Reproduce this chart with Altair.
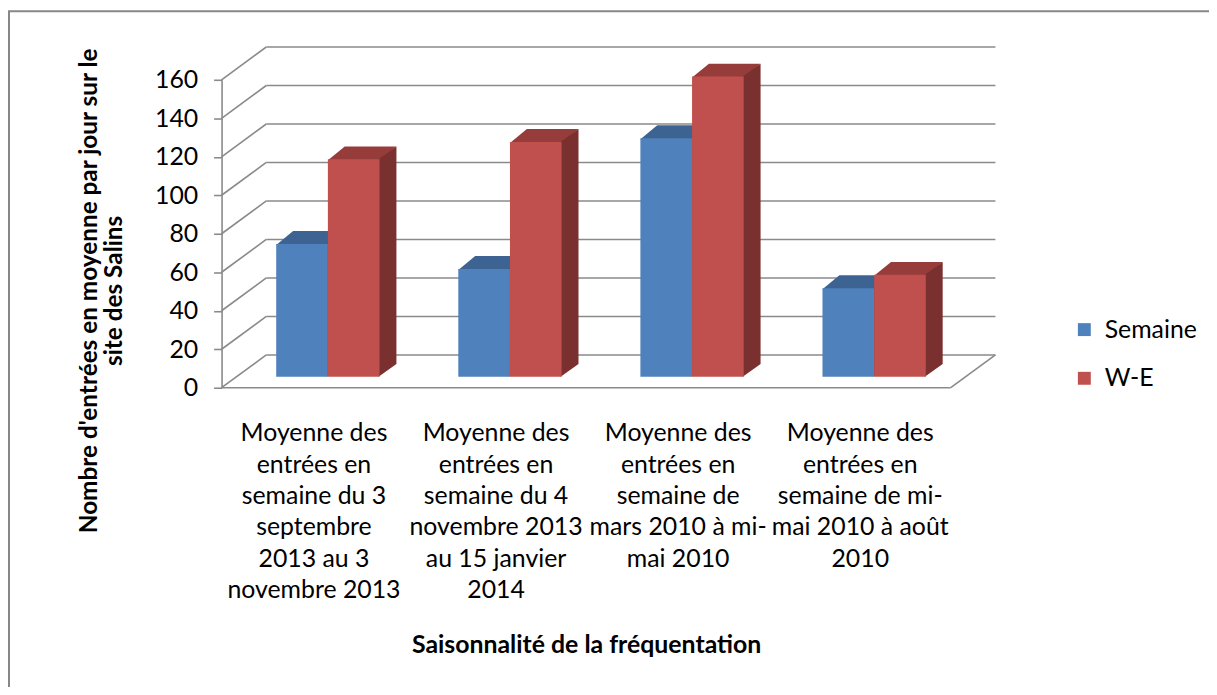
import altair as alt
import pandas as pd

# ---------------- data ----------------
categories = [
    "Moyenne des\nentrées en\nsemaine du 3\nseptembre\n2013 au 3\nnovembre 2013",
    "Moyenne des\nentrées en\nsemaine du 4\nnovembre 2013\nau 15 janvier\n2014",
    "Moyenne des\nentrées en\nsemaine de\nmars 2010 à mi-\nmai 2010",
    "Moyenne des\nentrées en\nsemaine de mi-\nmai 2010 à août\n2010",
]
series = ["Semaine", "W-E"]
semaine = [69, 56, 124, 46]
we = [113, 122, 156, 53]
ticks = [0, 20, 40, 60, 80, 100, 120, 140, 160]

y_title = ["Nombre d'entrées en moyenne par jour sur le", "site des Salins"]
x_title = "Saisonnalité de la fréquentation"

front_colors = ["#4F81BD", "#C0504D"]
top_colors = ["#3D6392", "#963D3B"]
side_colors = ["#31507A", "#7A302E"]
grid_color = "#8A8A8A"
FONT = "Lato"

# ---------------- geometry (styles, in px) ----------------
W, H = 779, 310            # front plot area
YMAX = 160
PITCH = 183.3              # px between categories
FIRST = 93                 # px from axis to first category centre
WALL_DX, WALL_DY = 45, 33  # depth of the back wall
BAR_PX = 52
BAR_DX, BAR_DY = 17, 13    # depth of each bar
SHIFT_X, SHIFT_Y = 14, 11  # bars sit a bit behind the front plane

XMIN = -FIRST / PITCH
XMAX = (W - FIRST) / PITCH
PXV = H / YMAX
BW = BAR_PX / PITCH
DX = BAR_DX / PITCH
DY = BAR_DY / PXV
SX = SHIFT_X / PITCH
SY = SHIFT_Y / PXV
EPSX = 1.0 / PITCH
EPSY = 1.0 / PXV
WALL_V = WALL_DY / PXV

xs = alt.Scale(domain=[XMIN, XMAX], nice=False, zero=False)
ys = alt.Scale(domain=[0, YMAX], nice=False, zero=False)

Y_AXIS = alt.Axis(
    values=ticks, grid=False, domainColor=grid_color, domainWidth=1.6,
    tickColor=grid_color, tickWidth=1.6, tickSize=8, labelPadding=16,
    labelFont=FONT, labelFontSize=25, labelColor="black",
    title=y_title, titleFont=FONT, titleFontSize=24.5, titleFontWeight="bold",
    titleColor="black", titleAngle=-90, titleX=-133, titleY=212,
    titleAlign="center", titleBaseline="middle", titleLineHeight=25,
)
X_AXIS = alt.Axis(
    labels=False, ticks=False, domain=False, grid=False,
    title=x_title, titleFont=FONT, titleFontSize=25, titleFontWeight="bold",
    titleColor="black", titleX=367, titleY=259, titleAlign="center",
    titleBaseline="middle",
)

# ---------------- tables ----------------
rows = []
for i in range(len(categories)):
    for k, vals in enumerate([semaine, we]):
        for t in (0, 1):
            rows.append({"i": i, "k": k, "s": series[k], "v": vals[i], "t": t})
bars = pd.DataFrame(rows)
ticks_df = pd.DataFrame({"v": ticks})
cats_df = pd.DataFrame({"i": list(range(len(categories))), "label": categories})


def base_bar(k):
    return alt.Chart(bars).transform_filter(alt.datum.k == k).transform_calculate(
        x0=f"datum.i + (datum.k - 1) * {BW} + {SX}",
        b=f"{SY}",
    ).transform_calculate(
        x1=f"datum.x0 + {BW}",
        top=f"datum.v + {SY}",
    ).transform_calculate(
        ty=f"datum.top - {EPSY} + datum.t * ({DY} + {EPSY})",
        tx0=f"datum.x0 + datum.t * {DX}",
        tx1=f"datum.x1 + datum.t * {DX}",
        sx=f"datum.x1 - {EPSX} + datum.t * ({DX} + {EPSX})",
        sy0=f"datum.b + datum.t * {DY}",
        sy1=f"datum.top + datum.t * {DY}",
    )


Y = lambda f: alt.Y(f, scale=ys, axis=Y_AXIS)
X = lambda f: alt.X(f, scale=xs, axis=X_AXIS)

layers = []

# outer frame
layers.append(
    alt.Chart(ticks_df).transform_filter(alt.datum.v == 0).mark_rect(
        fillOpacity=0, stroke="#878787", strokeWidth=2
    ).encode(x=alt.value(-214), x2=alt.value(1100), y=alt.value(-69), y2=alt.value(700))
)

# back wall grid lines
layers.append(
    alt.Chart(ticks_df).mark_rule(color=grid_color, strokeWidth=1.6, yOffset=-WALL_DY).encode(
        y=Y("v:Q"), x=alt.value(WALL_DX), x2=alt.value(W),
    )
)

# side wall diagonals
layers.append(
    alt.Chart(ticks_df).transform_calculate(v2=f"datum.v + {WALL_V}").mark_rule(
        color=grid_color, strokeWidth=1.6
    ).encode(x=alt.value(0), x2=alt.value(WALL_DX), y=Y("v:Q"), y2="v2:Q")
)

# floor
layers.append(
    alt.Chart(ticks_df).transform_filter(alt.datum.v == 0).mark_rule(
        color=grid_color, strokeWidth=1.6
    ).encode(x=alt.value(0), x2=alt.value(W - WALL_DX), y=Y("v:Q"))
)
layers.append(
    alt.Chart(ticks_df).transform_filter(alt.datum.v == 0).transform_calculate(
        v2=f"datum.v + {WALL_V}"
    ).mark_rule(color=grid_color, strokeWidth=1.6).encode(
        x=alt.value(W - WALL_DX), x2=alt.value(W), y=Y("v:Q"), y2="v2:Q",
    )
)

# bars
for k in range(len(series)):
    layers.append(
        base_bar(k).mark_area(orient="horizontal", color=top_colors[k]).encode(
            y=Y("ty:Q"), x=X("tx0:Q"), x2="tx1:Q", detail="i:N",
        )
    )
    layers.append(
        base_bar(k).mark_area(orient="vertical", color=side_colors[k]).encode(
            x=X("sx:Q"), y=Y("sy0:Q"), y2="sy1:Q", detail="i:N",
        )
    )
    layers.append(
        base_bar(k).transform_filter(alt.datum.t == 0).mark_rect().encode(
            x=X("x0:Q"), x2="x1:Q", y=Y("b:Q"), y2="top:Q",
            color=alt.Color(
                "s:N",
                scale=alt.Scale(domain=series, range=front_colors),
                legend=alt.Legend(
                    title=None, orient="none", legendX=856, legendY=239, padding=0,
                    symbolType="square", symbolSize=169, symbolStrokeWidth=0,
                    labelFont=FONT, labelFontSize=25, labelColor="black",
                    labelOffset=8, rowPadding=23,
                ),
            ),
        )
    )

# category labels
layers.append(
    alt.Chart(cats_df).mark_text(
        lineBreak="\n", font=FONT, fontSize=25, align="center", baseline="middle",
        lineHeight=31.5, color="black",
    ).encode(x=X("i:Q"), y=alt.value(356), text="label:N")
)

chart = alt.layer(*layers).properties(
    width=W, height=H,
    autosize=alt.AutoSizeParams(type="none"),
    padding={"left": 215, "top": 70, "right": 215, "bottom": 299},
).configure_view(stroke=None)

chart.save("out.html", embed_options={"renderer": "svg", "actions": False})
